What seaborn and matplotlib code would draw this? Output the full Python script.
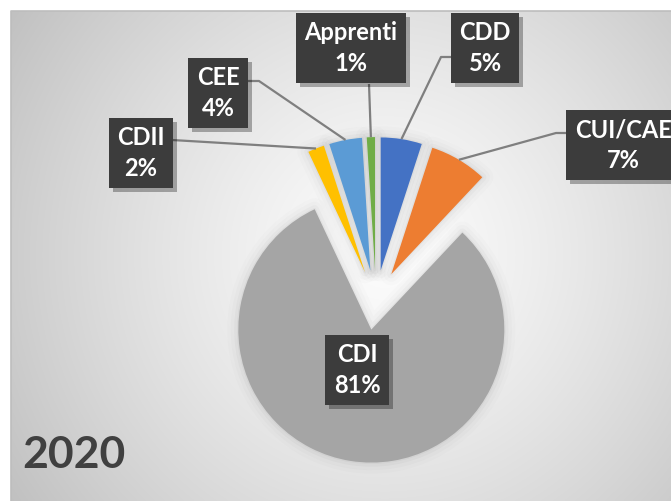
import numpy as np
import matplotlib
matplotlib.use('Agg')
import matplotlib.pyplot as plt
import seaborn as sns
from matplotlib import patheffects as pe
from matplotlib.patches import Wedge

# ---- data (clockwise from 12 o'clock) ----
categories = ['CDD', 'CUI/CAE', 'CDI', 'CDII', 'CEE', 'Apprenti']
values = [5, 7, 81, 2, 4, 1]
pct_labels = ['5%', '7%', '81%', '2%', '4%', '1%']
colors_hex = ['#4472C4', '#ED7D31', '#A5A5A5', '#FFC000', '#5B9BD5', '#70AD47']
year_label = '2020'

sns.set_theme(style='white')
plt.rcParams['font.family'] = ['Lato', 'DejaVu Sans']
palette = sns.color_palette(colors_hex)

W, H = 671, 501
R = 133.0            # pixels per pie radius
CX, CY = 376.0, 300.0  # pie centre in pixels (from top-left)


def P(px, py):
    return ((px - CX) / R, (CY - py) / R)


fig = plt.figure(figsize=(W / 100, H / 100), dpi=100)
fig.patch.set_facecolor('white')
ax = fig.add_axes([0, 0, 1, 1])

# ---- background: radial grey gradient ----
x0, y0 = 11, 11
gx = np.linspace(x0, W, 400)
gy = np.linspace(y0, H, 300)
GX, GY = np.meshgrid(gx, gy)
d = np.hypot(GX - 385, GY - 255) / 440
val = (252 - 58 * np.clip(d, 0, 1.3) ** 1.3) / 255
img = np.dstack([val, val, val])
l, t = P(x0, y0)
r, b = P(W, H)
ax.imshow(img, extent=[l, r, b, t], origin='upper', zorder=0, aspect='auto',
          interpolation='bilinear')
ax.plot([l, l, r + 0.1], [b - 0.1, t, t], color='#bdbdbd', lw=1.2, zorder=0.5)

# ---- pie ----
wedges, _ = ax.pie(values, colors=palette, startangle=90, counterclock=False,
                   explode=[0.225] * len(values), radius=1, center=(0, 0), frame=True,
                   wedgeprops=dict(linewidth=0), normalize=True)
for w in wedges:
    w.set_zorder(3)
    for lw, a in [(16, 0.012), (11, 0.016), (6, 0.022), (2, 0.03)]:
        g = Wedge(w.center, w.r, w.theta1, w.theta2, fc='none', ec='black',
                  lw=lw, alpha=a, joinstyle='round', zorder=2)
        ax.add_patch(g)

# ---- labels ----
label_pos = {
    'CDD': (485, 48), 'CUI/CAE': (623, 145), 'CDI': (357, 370),
    'CDII': (141, 153), 'CEE': (218, 93), 'Apprenti': (351, 48),
}
leader = {
    'CDD': [(453, 57), (441, 57)],
    'CUI/CAE': [(568, 133), (556, 133)],
    'CDII': [(172, 140)],
    'CEE': [(247, 81), (259, 81)],
    'Apprenti': [(369, 84)],
}

for w, cat, pct in zip(wedges, categories, pct_labels):
    px, py = label_pos[cat]
    txt = ax.text(*P(px, py), f'{cat}\n{pct}', ha='center', va='center', ma='center',
                  color='white', fontsize=17, fontweight='bold', linespacing=1.38,
                  zorder=6,
                  bbox=dict(boxstyle='square,pad=0.36', fc='#3c3c3c', ec='none'))
    txt.get_bbox_patch().set_path_effects(
        [pe.SimplePatchShadow(offset=(3, -3), shadow_rgbFace='black', alpha=0.3), pe.Normal()])
    if cat in leader:
        th = np.deg2rad((w.theta1 + w.theta2) / 2)
        ex = w.center[0] + w.r * np.cos(th)
        ey = w.center[1] + w.r * np.sin(th)
        pts = [P(*p) for p in leader[cat]]
        xs = [p[0] for p in pts] + [ex]
        ys = [p[1] for p in pts] + [ey]
        ax.plot(xs, ys, color='#7f7f7f', lw=1.6, zorder=4, solid_capstyle='butt')

ax.text(*P(22, 468), year_label, ha='left', va='baseline', fontsize=32,
        fontweight='bold', color='#404040', zorder=6)

ax.set_xlim(-CX / R, (W - CX) / R)
ax.set_ylim((CY - H) / R, CY / R)
ax.set_aspect('equal', adjustable='box')
ax.set_axis_off()

fig.savefig('out.png', dpi=100)
